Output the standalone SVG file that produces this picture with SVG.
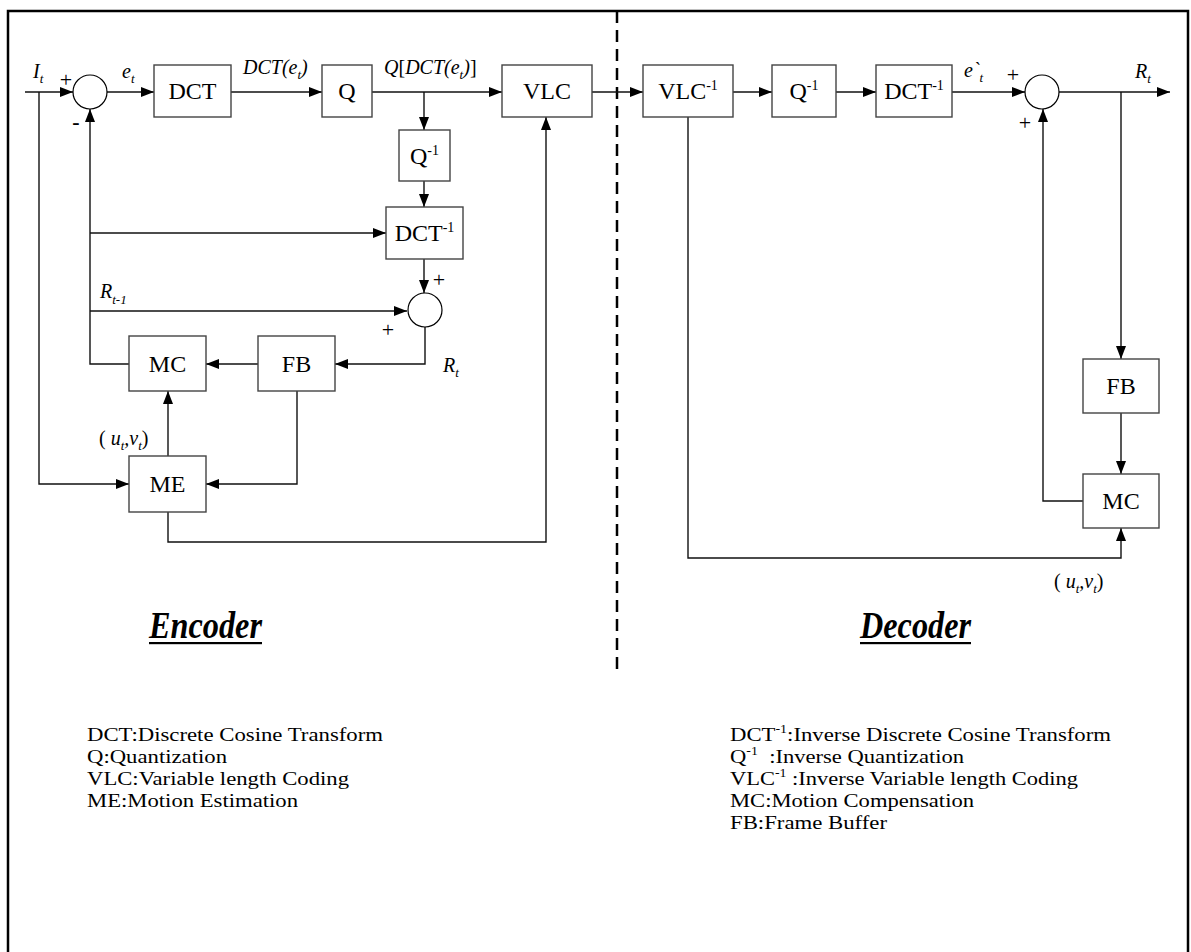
<svg xmlns="http://www.w3.org/2000/svg" width="1191" height="952" viewBox="0 0 1191 952">
<defs>
<marker id="ah" markerWidth="13" markerHeight="10" refX="13" refY="5" orient="auto" markerUnits="userSpaceOnUse">
<path d="M0,0 L13,5 L0,10 z" fill="#000"/>
</marker>
<style>
.box{fill:#fff;stroke:#444;stroke-width:1.4}
.sum{fill:#fff;stroke:#000;stroke-width:1.2}
.arr{fill:none;stroke:#111;stroke-width:1.4;marker-end:url(#ah)}
.lbl{font-family:"Liberation Serif",serif;font-size:24px;text-anchor:middle;fill:#000}
.sup{font-size:14px}
.math{font-family:"Liberation Serif",serif;font-size:20px;font-style:italic;fill:#000}
.sub{font-size:13px}
.rm{font-style:normal}
.sign{font-family:"Liberation Serif",serif;font-size:22px;fill:#000;text-anchor:middle}
.leg{font-family:"Liberation Serif",serif;font-size:19.5px;fill:#000}
.legsup{font-size:12px}
.title{font-family:"Liberation Serif",serif;font-size:38px;font-weight:bold;font-style:italic;fill:#000}
</style>
</defs>
<rect x="8" y="11" width="1180" height="960" fill="#fff" stroke="#000" stroke-width="2.5"/>
<line x1="617" y1="11" x2="617" y2="672" stroke="#000" stroke-width="2.5" stroke-dasharray="12,7"/>

<g id="connectors">
<path class="arr" d="M25,92 H73"/>
<path class="arr" d="M107,92 H154"/>
<path class="arr" d="M231,92 H322"/>
<path class="arr" d="M372,92 H502"/>
<path class="arr" d="M424,92 V130"/>
<path class="arr" d="M424,181 V207"/>
<path class="arr" d="M424,259 V293"/>
<path class="arr" d="M39,92 V484 H129"/>
<path class="arr" d="M129,364 H90 V109"/>
<path class="arr" d="M90,233 H386"/>
<path class="arr" d="M90,311 H407"/>
<path class="arr" d="M425,327 V364 H335"/>
<path class="arr" d="M258,364 H206"/>
<path class="arr" d="M297,391 V484 H206"/>
<path class="arr" d="M168,456 V391"/>
<path class="arr" d="M168,512 V542 H546 V117"/>
<path class="arr" d="M592,92 H643"/>
<path class="arr" d="M733,92 H772"/>
<path class="arr" d="M836,92 H876"/>
<path class="arr" d="M952,92 H1025"/>
<path class="arr" d="M1059,92 H1170"/>
<path class="arr" d="M1121,92 V359"/>
<path class="arr" d="M1121,413 V474"/>
<path class="arr" d="M1083,501 H1043 V109"/>
<path class="arr" d="M688,117 V558 H1121 V528"/>
</g>

<g id="sum1"><circle class="sum" cx="90" cy="92" r="17"/></g>
<g id="sum2"><circle class="sum" cx="425" cy="310" r="17"/></g>
<g id="sum3"><circle class="sum" cx="1042" cy="92" r="17"/></g>

<g id="enc-dct"><rect class="box" x="154" y="65" width="77" height="52"/><text class="lbl" x="192.5" y="99">DCT</text></g>
<g id="enc-q"><rect class="box" x="322" y="65" width="50" height="52"/><text class="lbl" x="347" y="99">Q</text></g>
<g id="enc-vlc"><rect class="box" x="502" y="65" width="90" height="52"/><text class="lbl" x="547" y="99">VLC</text></g>
<g id="enc-iq"><rect class="box" x="399" y="130" width="51" height="51"/><text class="lbl" x="424.5" y="164">Q<tspan class="sup" dy="-9">-1</tspan></text></g>
<g id="enc-idct"><rect class="box" x="386" y="207" width="77" height="52"/><text class="lbl" x="424.5" y="241">DCT<tspan class="sup" dy="-9">-1</tspan></text></g>
<g id="enc-mc"><rect class="box" x="129" y="336" width="77" height="55"/><text class="lbl" x="167.5" y="372">MC</text></g>
<g id="enc-fb"><rect class="box" x="258" y="336" width="77" height="55"/><text class="lbl" x="296.5" y="372">FB</text></g>
<g id="enc-me"><rect class="box" x="129" y="456" width="77" height="56"/><text class="lbl" x="167.5" y="492">ME</text></g>

<g id="dec-ivlc"><rect class="box" x="643" y="65" width="90" height="52"/><text class="lbl" x="688" y="99">VLC<tspan class="sup" dy="-9">-1</tspan></text></g>
<g id="dec-iq"><rect class="box" x="772" y="65" width="64" height="52"/><text class="lbl" x="804" y="99">Q<tspan class="sup" dy="-9">-1</tspan></text></g>
<g id="dec-idct"><rect class="box" x="876" y="65" width="76" height="52"/><text class="lbl" x="914" y="99">DCT<tspan class="sup" dy="-9">-1</tspan></text></g>
<g id="dec-fb"><rect class="box" x="1083" y="359" width="76" height="54"/><text class="lbl" x="1121" y="394">FB</text></g>
<g id="dec-mc"><rect class="box" x="1083" y="474" width="76" height="54"/><text class="lbl" x="1121" y="509">MC</text></g>

<g id="labels">
<text class="math" x="33" y="78">I<tspan class="sub" dy="5">t</tspan></text>
<text class="sign" x="66" y="87">+</text>
<text class="sign" x="76" y="129" style="font-weight:bold;font-size:22px">-</text>
<text class="math" x="122" y="78">e<tspan class="sub" dy="5">t</tspan></text>
<text class="math" x="243" y="74">DCT(e<tspan class="sub" dy="5">t</tspan><tspan dy="-5">)</tspan></text>
<text class="math" x="384" y="74">Q<tspan class="rm">[</tspan>DCT(e<tspan class="sub" dy="5">t</tspan><tspan dy="-5">)</tspan><tspan class="rm">]</tspan></text>
<text class="sign" x="439" y="287">+</text>
<text class="math" x="100" y="298">R<tspan class="sub" dy="6">t-1</tspan></text>
<text class="sign" x="388" y="337">+</text>
<text class="math" x="443" y="372">R<tspan class="sub" dy="5">t</tspan></text>
<text class="math" x="99" y="445"><tspan class="rm">( </tspan>u<tspan class="sub" dy="5">t</tspan><tspan dy="-5">,v</tspan><tspan class="sub" dy="5">t</tspan><tspan class="rm" dy="-5">)</tspan></text>
<text class="math" x="964" y="77">e`<tspan class="sub" dy="5">t</tspan></text>
<text class="sign" x="1013" y="82">+</text>
<text class="sign" x="1025" y="130">+</text>
<text class="math" x="1135" y="78">R<tspan class="sub" dy="5">t</tspan></text>
<text class="math" x="1054" y="588"><tspan class="rm">( </tspan>u<tspan class="sub" dy="5">t</tspan><tspan dy="-5">,v</tspan><tspan class="sub" dy="5">t</tspan><tspan class="rm" dy="-5">)</tspan></text>
</g>

<g id="titles">
<text class="title" x="149" y="638" textLength="113" lengthAdjust="spacingAndGlyphs">Encoder</text>
<rect x="149" y="642" width="113" height="2.2" fill="#000"/>
<text class="title" x="860" y="638" textLength="111" lengthAdjust="spacingAndGlyphs">Decoder</text>
<rect x="860" y="642" width="111" height="2.2" fill="#000"/>
</g>

<g id="legend-left">
<text class="leg" x="87" y="741" textLength="296" lengthAdjust="spacingAndGlyphs">DCT:Discrete Cosine Transform</text>
<text class="leg" x="87" y="763" textLength="140" lengthAdjust="spacingAndGlyphs">Q:Quantization</text>
<text class="leg" x="87" y="785" textLength="262" lengthAdjust="spacingAndGlyphs">VLC:Variable length Coding</text>
<text class="leg" x="87" y="807" textLength="211" lengthAdjust="spacingAndGlyphs">ME:Motion Estimation</text>
</g>
<g id="legend-right">
<text class="leg" x="730" y="741" textLength="381" lengthAdjust="spacingAndGlyphs">DCT<tspan class="legsup" dy="-8">-1</tspan><tspan dy="8">:Inverse Discrete Cosine Transform</tspan></text>
<text class="leg" x="730" y="763" xml:space="preserve" textLength="234" lengthAdjust="spacingAndGlyphs">Q<tspan class="legsup" dy="-8">-1</tspan><tspan dy="8">  :Inverse Quantization</tspan></text>
<text class="leg" x="730" y="785" xml:space="preserve" textLength="348" lengthAdjust="spacingAndGlyphs">VLC<tspan class="legsup" dy="-8">-1</tspan><tspan dy="8"> :Inverse Variable length Coding</tspan></text>
<text class="leg" x="730" y="807" textLength="244" lengthAdjust="spacingAndGlyphs">MC:Motion Compensation</text>
<text class="leg" x="730" y="829" textLength="157" lengthAdjust="spacingAndGlyphs">FB:Frame Buffer</text>
</g>
</svg>
